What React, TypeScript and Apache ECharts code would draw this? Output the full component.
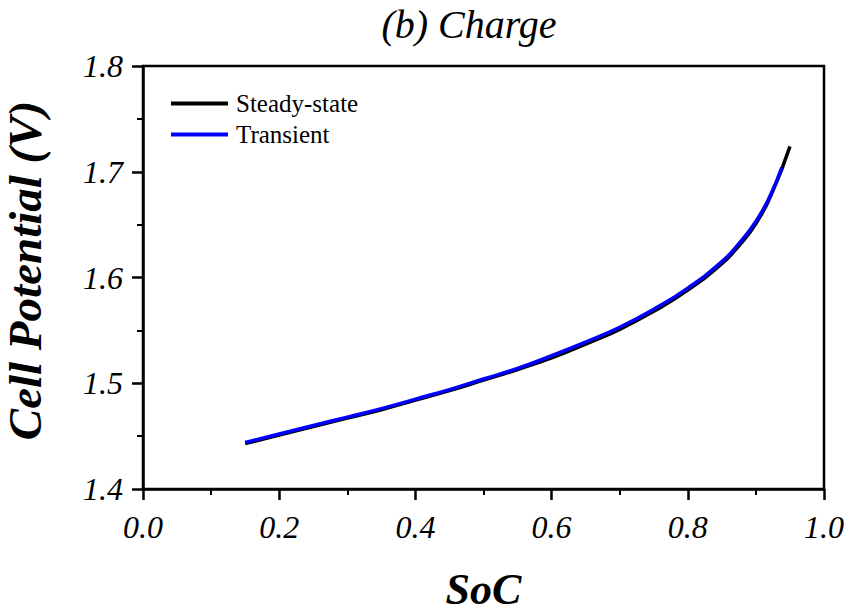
import React, { useEffect, useRef } from "react";
import * as echarts from "echarts";

const steadySoC = [0.15, 0.2, 0.25, 0.3, 0.35, 0.4, 0.45, 0.5, 0.55, 0.6, 0.65, 0.7, 0.75, 0.8, 0.85, 0.875, 0.9, 0.925, 0.95];
const steadyV = [1.443, 1.451, 1.459, 1.467, 1.475, 1.484, 1.493, 1.503, 1.513, 1.524, 1.537, 1.551, 1.568, 1.588, 1.613, 1.63, 1.651, 1.682, 1.724];
const transSoC = [0.15, 0.2, 0.25, 0.3, 0.35, 0.4, 0.45, 0.5, 0.55, 0.6, 0.65, 0.7, 0.75, 0.8, 0.85, 0.875, 0.9, 0.92, 0.938];
const transV = [1.444, 1.452, 1.46, 1.468, 1.476, 1.485, 1.494, 1.504, 1.514, 1.526, 1.539, 1.553, 1.57, 1.59, 1.615, 1.632, 1.653, 1.676, 1.704];

const seriesNames = ["Steady-state", "Transient"];
const xTicks = { min: 0, max: 1, interval: 0.2 };
const yTicks = { min: 1.4, max: 1.8, interval: 0.1 };

const serif = "Liberation Serif";

export default function App() {
  const ref = useRef<HTMLDivElement>(null);
  useEffect(() => {
    if (!ref.current) return;
    const chart = echarts.init(ref.current, undefined, { renderer: "svg" });
    const zip = (xs: number[], ys: number[]) => xs.map((x, i) => [x, ys[i]]);
    chart.setOption({
      animation: false,
      backgroundColor: "#fff",
      grid: {
        left: 143, right: 24, top: 66, bottom: 125,
        outerBoundsMode: "none", containLabel: false,
        show: true, borderColor: "#000", borderWidth: 2.5, backgroundColor: "transparent",
      },
      graphic: [
        {
          type: "text",
          x: 469,
          y: 24,
          style: { text: "(b) Charge", fontFamily: serif, fontStyle: "italic", fontSize: 40, fill: "#000", textAlign: "center", textVerticalAlign: "middle" },
        },
      ],
      legend: {
        orient: "vertical",
        left: 166,
        top: 86,
        itemWidth: 57,
        itemHeight: 4,
        itemGap: 6,
        icon: "rect",
        data: seriesNames,
        textStyle: { fontFamily: serif, fontSize: 25, color: "#000", lineHeight: 25, padding: [0, 0, 0, 3] },
      },
      xAxis: {
        type: "value",
        min: xTicks.min,
        max: xTicks.max,
        interval: xTicks.interval,
        name: "SoC",
        nameLocation: "middle",
        nameGap: 78,
        nameTextStyle: { fontFamily: serif, fontStyle: "italic", fontWeight: "bold", fontSize: 44, color: "#000" },
        axisLine: { show: true, lineStyle: { color: "#000", width: 2.5 } },
        axisTick: { show: true, inside: false, length: 11, lineStyle: { color: "#000", width: 2.5 } },
        minorTick: { show: true, splitNumber: 2, length: 6, lineStyle: { color: "#000", width: 2 } },
        splitLine: { show: false },
        axisLabel: { margin: 22, fontFamily: serif, fontStyle: "italic", fontSize: 32, color: "#000", formatter: (v: number) => v.toFixed(1) },
      },
      yAxis: {
        type: "value",
        min: yTicks.min,
        max: yTicks.max,
        interval: yTicks.interval,
        name: "Cell Potential (V)",
        nameLocation: "middle",
        nameGap: 95,
        nameRotate: 90,
        nameTextStyle: { fontFamily: serif, fontStyle: "italic", fontWeight: "bold", fontSize: 47, color: "#000", padding: [0, 0, 0, 14] },
        axisLine: { show: true, lineStyle: { color: "#000", width: 2.5 } },
        axisTick: { show: true, inside: false, length: 11, lineStyle: { color: "#000", width: 2.5 } },
        minorTick: { show: true, splitNumber: 2, length: 6, lineStyle: { color: "#000", width: 2 } },
        splitLine: { show: false },
        axisLabel: { margin: 20, fontFamily: serif, fontStyle: "italic", fontSize: 32, color: "#000", formatter: (v: number) => v.toFixed(1) },
      },
      series: [
        {
          name: seriesNames[0],
          type: "line",
          data: zip(steadySoC, steadyV),
          smooth: true,
          showSymbol: false,
          symbol: "none",
          lineStyle: { color: "#000", width: 3.5 },
          itemStyle: { color: "#000" },
        },
        {
          name: seriesNames[1],
          type: "line",
          data: zip(transSoC, transV),
          smooth: true,
          showSymbol: false,
          symbol: "none",
          lineStyle: { color: "#0000ff", width: 3.5 },
          itemStyle: { color: "#0000ff" },
        },
      ],
    });
    return () => chart.dispose();
  }, []);
  return <div ref={ref} style={{ width: 848, height: 614, position: "absolute", left: 0, top: 0 }} />;
}
